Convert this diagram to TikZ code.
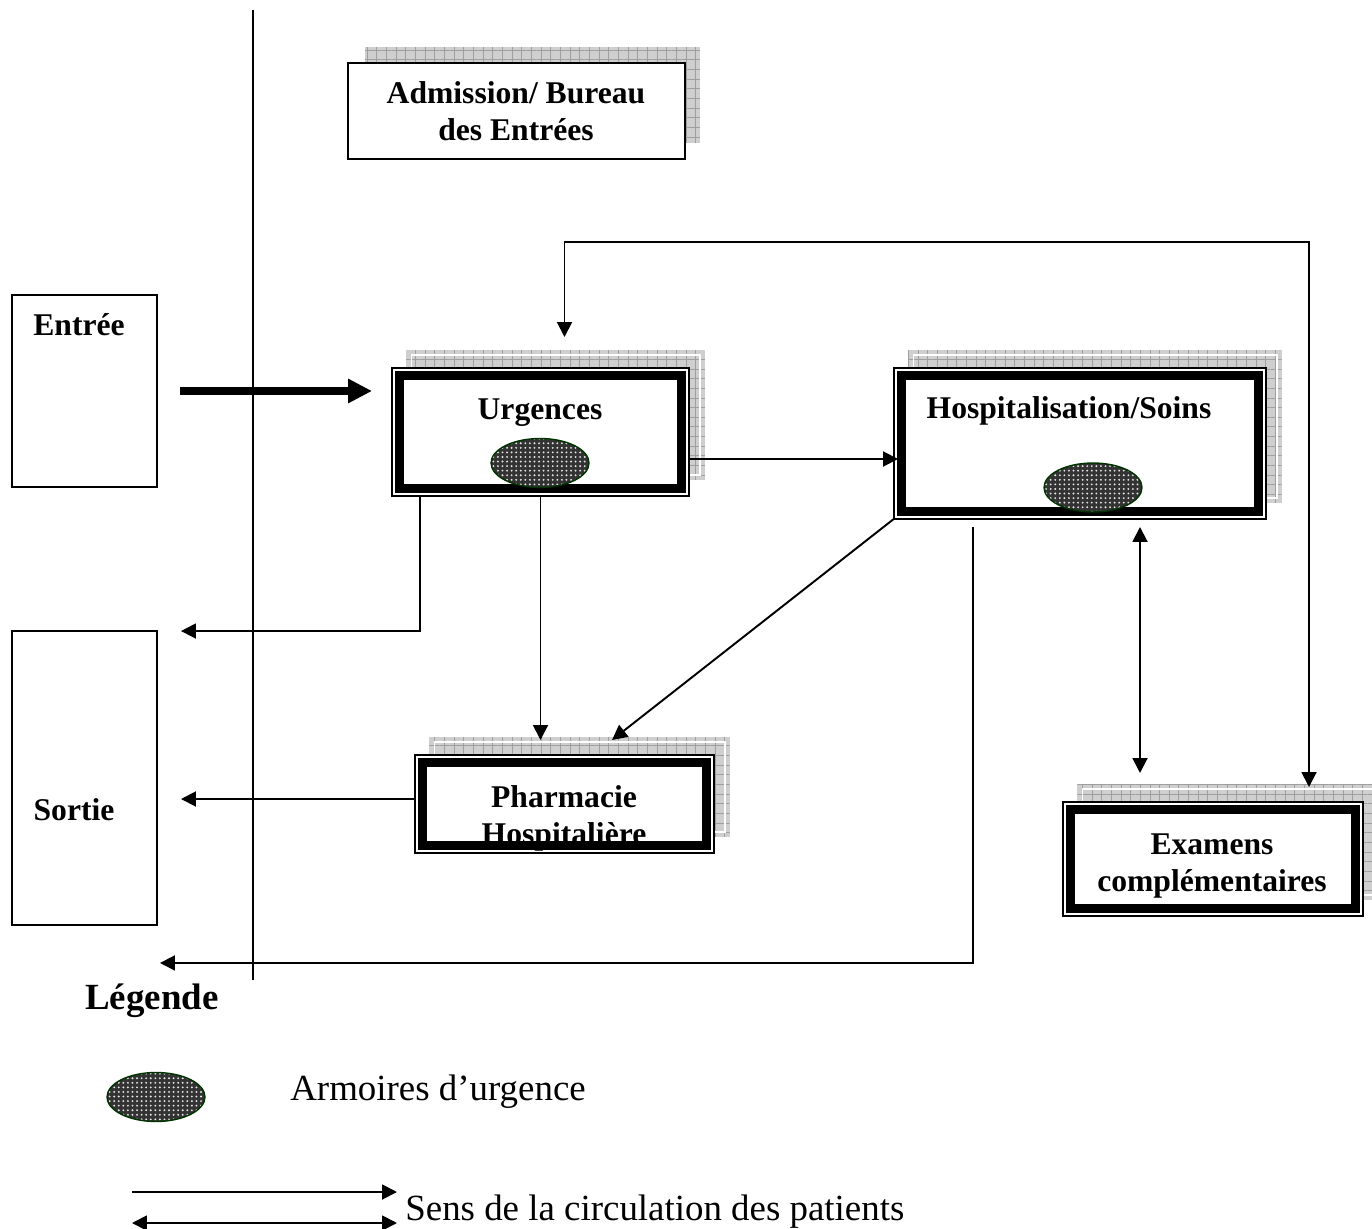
\documentclass[tikz,border=0pt]{standalone}
\usepackage{fontspec}
\setmainfont{Liberation Serif}
\usetikzlibrary{positioning,shapes.geometric,arrows.meta,patterns,patterns.meta,backgrounds}

% grey grid shadow behind a framed service box
\newcommand{\boxshadow}[1]{%
  \begin{scope}[on background layer]
    \path[shadowgrid] ([shift={(7,-25)}]#1.north west) rectangle ([shift={(23,-9)}]#1.south east);
    \draw[white, line width=0.6pt] ([shift={(12,-20)}]#1.north west) rectangle ([shift={(18,-14)}]#1.south east);
  \end{scope}}

\begin{document}
\begin{tikzpicture}[x=0.02cm, y=-0.02cm,
          plainbox/.style={rectangle, draw, line width=0.75pt, fill=white,
              inner sep=0pt, outer sep=0pt},
          service/.style={rectangle, fill=white, draw, line width=0.18cm,
              inner sep=0pt, outer sep=0pt,
              preaction={draw, line width=0.32cm},
              preaction={draw=white, line width=0.26cm}},
          shadowgrid/.style={preaction={fill=gray!38},
              pattern={Hatch[angle=0, distance=5.5pt, line width=0.5pt]},
              pattern color=gray!75},
          armoire/.style={ellipse, minimum width=1.96cm, minimum height=0.98cm,
              inner sep=0pt, draw=green!20!black, line width=0.8pt,
              preaction={fill=black!80},
              pattern={Dots[radius=0.6pt, distance=2.6pt]},
              pattern color=white!90!black},
          title/.style={font=\fontsize{18}{21}\selectfont\bfseries, align=center, inner sep=0pt},
          legtitle/.style={font=\fontsize{21}{25}\selectfont\bfseries, inner sep=0pt},
          legtext/.style={font=\fontsize{21}{25}\selectfont, inner sep=0pt},
          wall/.style={line width=1.1pt},
          arr/.style={-{Triangle[length=0.3cm, width=0.3cm]}, line width=1.1pt},
          dblarr/.style={{Triangle[length=0.3cm, width=0.3cm]}-{Triangle[length=0.3cm, width=0.3cm]}, line width=1.1pt},
          bigarr/.style={-{Triangle[length=0.48cm, width=0.46cm]}, line width=0.16cm}
        ]
        \useasboundingbox (0,0) rectangle (1372,1229);

        % entry / exit and wall
        \draw[wall] (253,10) -- (253,980);
        \node[plainbox, minimum width=2.9cm, minimum height=3.84cm] (ent) at (84.5,391) {};
        \node[plainbox, minimum width=2.9cm, minimum height=5.88cm] (sor) at (84.5,778) {};
        \node[title, anchor=base] (entT) at (79,336) {Entrée};
        \node[title, anchor=base] (sorT) at (74,820) {Sortie};

        % admission
        \node[plainbox, minimum width=6.74cm, minimum height=1.92cm] (adm) at (516.5,111) {};
        \begin{scope}[on background layer]
          \path[shadowgrid] ([shift={(17,-16)}]adm.north west) rectangle ([shift={(15,-16)}]adm.south east);
        \end{scope}
        \node[title] (admT) at (516,111) {Admission/ Bureau\\des Entrées};

        % services
        \node[service, minimum width=5.66cm, minimum height=2.28cm] (urg)  at (540.5,432) {};
        \node[service, minimum width=7.16cm, minimum height=2.74cm] (hosp) at (1080,443.5) {};
        \node[service, minimum width=5.70cm, minimum height=1.68cm] (pha)  at (564.5,804) {};
        \node[service, minimum width=5.72cm, minimum height=2.00cm] (exa)  at (1213,859) {};
        \boxshadow{urg}
        \boxshadow{hosp}
        \boxshadow{pha}
        \boxshadow{exa}
        \node[title, anchor=base] (urgT)  at (540,420)  {Urgences};
        \node[title, anchor=base] (hospT) at (1069,419) {Hospitalisation/Soins};
        \node[title] (phaT) at (564,818)  {Pharmacie\\Hospitalière};
        \node[title] (exaT) at (1212,866) {Examens\\complémentaires};
        \node[armoire] (urgA)  at (540,463)  {};
        \node[armoire] (hospA) at (1093,487.5) {};

        % patient flow
        \coordinate (turn) at (1309,242);
        \draw[bigarr] ([shift={(23,0)}]ent.east) -- ([shift={(-27,0)}]ent.east -| urg.west);
        \draw[arr] ([shift={(8,27)}]urg.east) -- ([shift={(-3,27)}]urg.east -| hosp.west);
        \draw[arr] ([shift={(0,7)}]urg.south) -- ([shift={(0,-22)}]urg.south |- pha.north);
        \draw[arr] ([shift={(21,7)}]urg.south west) |- ([shift={(24,0)}]sor.north east);
        \draw[arr] ([shift={(-7,-5)}]pha.west) -- ([shift={(24,-5)}]pha.west -| sor.east);
        \draw[arr] ([shift={(-6,6)}]hosp.south west) -- ([shift={(190,-22)}]pha.north west);
        \draw[arr] ([shift={(72,15)}]hosp.south west) |- ([shift={(3,38)}]sor.south east);
        \draw[dblarr] ([shift={(60,15)}]hosp.south) -- ([shift={(60,-36)}]hosp.south |- exa.north);
        \draw[dblarr] ([shift={(24,-38)}]urg.north) |- (turn) -- ([shift={(96,-22)}]exa.north);

        % legend
        \node[legtitle, anchor=base west] (leg) at (85,1009) {Légende};
        \node[armoire] (legA) at (156,1097) {};
        \node[legtext, anchor=base west] (legAT) at (290,1100) {Armoires d’urgence};
        \coordinate (k1a) at (132,1192);
        \coordinate (k1b) at (397,1192);
        \coordinate (k2a) at (132,1223);
        \coordinate (k2b) at (397,1223);
        \draw[arr] (k1a) -- (k1b);
        \draw[dblarr] (k2a) -- (k2b);
        \node[legtext, anchor=base west] (sens) at (405,1220) {Sens de la circulation des patients};
      \end{tikzpicture}
\end{document}
